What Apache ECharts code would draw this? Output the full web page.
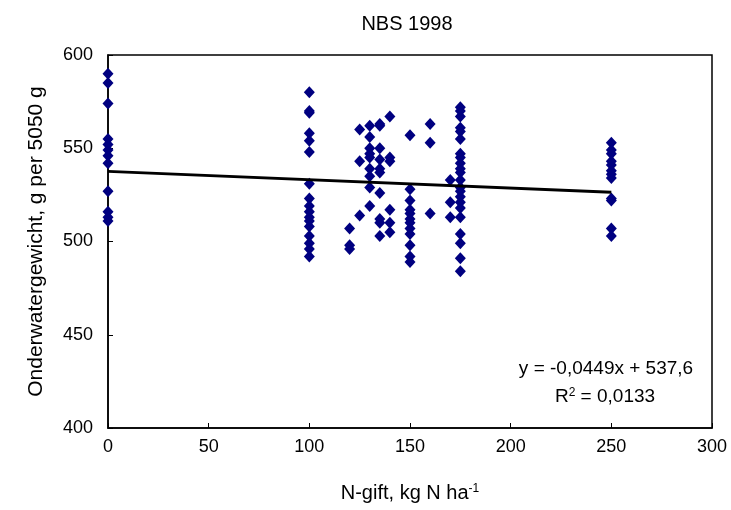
<!DOCTYPE html>
<html><head><meta charset="utf-8">
<script src="https://cdn.jsdelivr.net/npm/echarts@6/dist/echarts.min.js"></script>
<style>html,body{margin:0;padding:0;background:#fff}#c{width:731px;height:510px}</style>
</head><body><div id="c"></div>
<script>
const title = "NBS 1998";
const xName = "N-gift, kg N ha";
const yName = "Onderwatergewicht, g per 5050 g";
const xTicks = [0, 50, 100, 150, 200, 250, 300];
const yTicks = [400, 450, 500, 550, 600];
const eqText = "y = -0,0449x + 537,6";
const r2Text = "0,0133";

const x0   = [590, 585, 574, 555, 552, 549, 546, 542, 527, 516, 513, 511];
const x100 = [580, 570, 569, 558, 554, 548, 531, 523, 519, 516, 513, 511, 508, 503, 499, 496, 492];
const x120 = [507, 498, 496];
const x125 = [560, 543, 514];
const x130 = [562, 556, 550, 547, 545, 539, 535, 529, 519];
const x135 = [563, 562, 550, 544, 539, 537, 526, 512, 510, 503];
const x140 = [567, 545, 543, 517, 510, 505];
const x150 = [557, 528, 522, 517, 515, 512, 510, 507, 504, 498, 492, 489];
const x160 = [563, 553, 515];
const x170 = [533, 521, 513];
const x175 = [572, 570, 567, 561, 559, 555, 547, 545, 542, 539, 537, 533, 529, 527, 524, 521, 518, 513, 504, 499, 491, 484];
const x250 = [553, 549, 547, 543, 541, 538, 536, 534, 523, 522, 507, 503];
const groups = [[0,x0],[100,x100],[120,x120],[125,x125],[130,x130],[135,x135],[140,x140],[150,x150],[160,x160],[170,x170],[175,x175],[250,x250]];
const trendX = [0, 250];
const trendY = [537.6, 526.4];

const pts = [];
groups.forEach(([x, arr]) => arr.forEach(v => pts.push([x, v])));
const trend = trendX.map((x, i) => [x, trendY[i]]);

const FONT = "Liberation Sans";
const chart = echarts.init(document.getElementById('c'));
chart.setOption({
  animation: false,
  backgroundColor: '#fff',
  title: { text: title, left: 402, top: 9, textAlign: 'center',
    textStyle: { fontFamily: FONT, fontSize: 20, fontWeight: 'normal', color: '#000' } },
  grid: { left: 108, right: 19, top: 55, bottom: 82, show: true, borderColor: '#000', borderWidth: 1.5 },
  xAxis: { type: 'value', min: 0, max: 300, interval: 50,
    name: '{a|' + xName + '}{s|-1}', nameLocation: 'middle', nameGap: 55,
    nameTextStyle: { rich: { a: { fontFamily: FONT, fontSize: 20, color: '#000' },
                             s: { fontFamily: FONT, fontSize: 12, color: '#000', verticalAlign: 'top', padding: [0,0,9,0] } } },
    axisLine: { lineStyle: { color: '#000', width: 1.5 } },
    axisTick: { show: true, inside: true, length: 5, lineStyle: { color: '#000' } },
    axisLabel: { fontFamily: FONT, fontSize: 18, color: '#000', margin: 10 },
    splitLine: { show: false } },
  yAxis: { type: 'value', min: 400, max: 600, interval: 50,
    name: yName, nameLocation: 'middle', nameGap: 61,
    nameTextStyle: { fontFamily: FONT, fontSize: 21, color: '#000' },
    axisLine: { show: true, lineStyle: { color: '#000', width: 1.5 } },
    axisTick: { show: true, inside: true, length: 5, lineStyle: { color: '#000' } },
    axisLabel: { fontFamily: FONT, fontSize: 18, color: '#000', margin: 15 },
    splitLine: { show: false } },
  graphic: [
    { type: 'text', x: 606, y: 369, style: { text: eqText, textAlign: 'center', textVerticalAlign: 'middle',
        font: '19px "Liberation Sans"', fill: '#000' } },
    { type: 'text', x: 605, y: 397, style: { text: '{a|R}{s|2}{a| = ' + r2Text + '}', textAlign: 'center', textVerticalAlign: 'middle',
        rich: { a: { fontFamily: FONT, fontSize: 19, color: '#000' },
                s: { fontFamily: FONT, fontSize: 12, color: '#000', verticalAlign: 'top', padding: [0,0,9,0] } } } }
  ],
  series: [
    { type: 'scatter', data: pts, symbol: 'diamond', symbolSize: [11, 12],
      itemStyle: { color: '#000080', opacity: 1 }, z: 3 },
    { type: 'line', data: trend, symbol: 'none', lineStyle: { color: '#000', width: 3 }, z: 4 }
  ]
});
</script></body></html>
